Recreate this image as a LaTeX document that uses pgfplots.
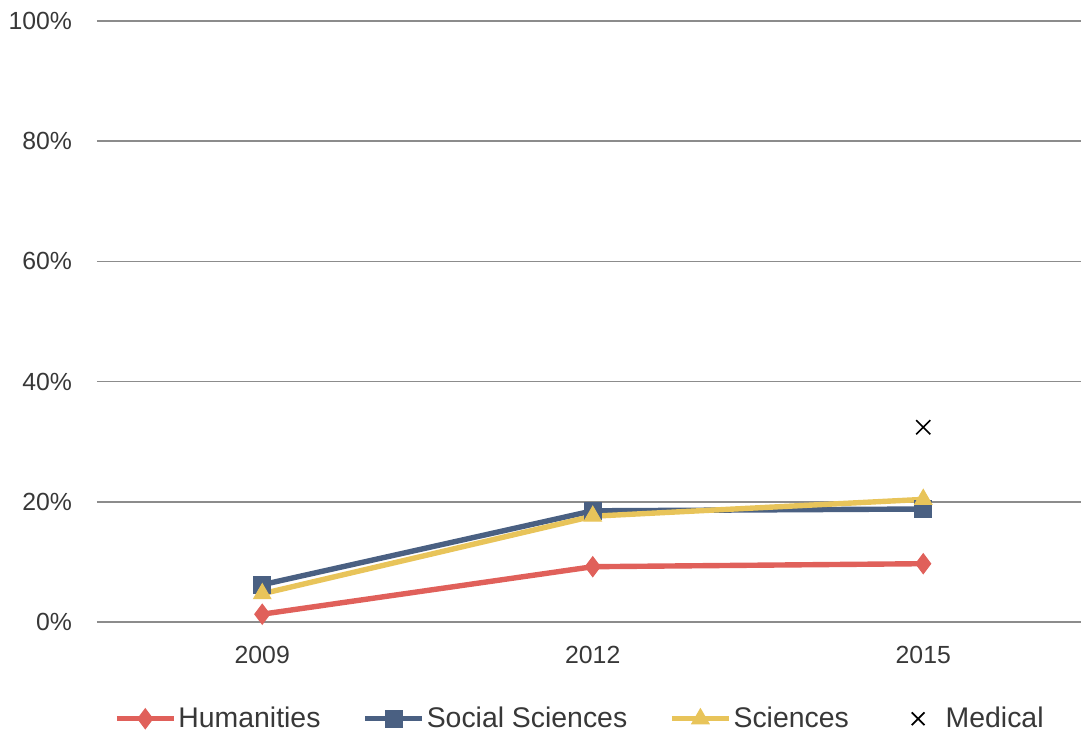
\documentclass[border=0pt]{standalone}
\usepackage{pgfplots}
\pgfplotsset{compat=1.18}
\usepackage{fontspec}
\setmainfont{Liberation Sans}
\definecolor{hum}{HTML}{E0605A}
\definecolor{soc}{HTML}{4A6082}
\definecolor{sci}{HTML}{E8C45A}
\definecolor{txt}{HTML}{383838}
\begin{document}
\begin{tikzpicture}
\begin{axis}[
  scale only axis, width=495.75pt, height=300.5pt,
  xmin=-0.5, xmax=2.5, ymin=0, ymax=100,
  xtick={0,1,2}, xticklabels={2009,2012,2015},
  ytick={0,20,...,100},
  yticklabel={\pgfmathprintnumber{\tick}\%},
  /pgf/number format/assume math mode=true,
  axis line style={draw=none}, major tick length=0pt,
  ymajorgrids, grid style={color=gray!90, line width=0.8pt},
  tick label style={font=\fontsize{12.4}{14}\selectfont, text=txt},
  yticklabel style={xshift=-9pt},
  xticklabel style={yshift=-8.5pt},
  clip=false,
  legend columns=4,
  legend style={draw=none, at={(0.487,-0.161)}, anchor=center,
    font=\fontsize{14.2}{16}\selectfont, text=txt,
    nodes={inner sep=1pt},
    /tikz/every even column/.append style={column sep=20pt}},
  legend cell align=left,
  legend image code/.code={\draw[mark repeat=2,mark phase=2] plot coordinates {(0cm,0cm)(0.5cm,0cm)(1cm,0cm)};},
]
\addplot[hum, line width=2.7pt, mark=diamond*, mark size=5pt, mark options={solid, line width=0.5pt}]
  coordinates {(0,1.3)(1,9.2)(2,9.7)};
\addlegendentry{Humanities}
\addplot[soc, line width=2.7pt, mark=square*, mark size=4.2pt, mark options={solid, line width=0.5pt}]
  coordinates {(0,6.2)(1,18.5)(2,18.8)};
\addlegendentry{Social Sciences}
\addplot[sci, line width=2.7pt, mark=triangle*, mark size=5pt, mark options={solid, line width=0.5pt}]
  coordinates {(0,4.7)(1,17.6)(2,20.4)};
\addlegendentry{Sciences}
\addplot[black, only marks, mark=x, mark size=5pt, mark options={line width=0.8pt}, legend image code/.code={\path[draw=none] (0cm,0cm) -- (0.93cm,0cm); \draw[mark size=4.5pt] plot coordinates {(0.48cm,0cm)};}]
  coordinates {(2,32.4)};
\addlegendentry{Medical}
\coordinate (ll) at (rel axis cs:0,0);
\coordinate (ur) at (rel axis cs:1,1);
\end{axis}
\pgfresetboundingbox
\path ([shift={(-48.5pt,-54.5pt)}]ll) rectangle ([shift={(-3.75pt,10.5pt)}]ur);
\end{tikzpicture}
\end{document}
